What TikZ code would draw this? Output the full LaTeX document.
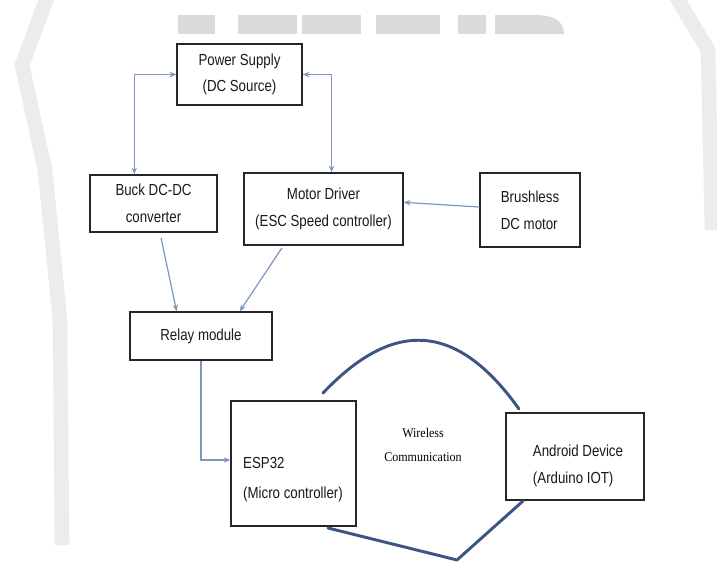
\documentclass[tikz,border=0pt]{standalone}
\usepackage{fontspec}
\setmainfont{Liberation Sans}[FakeStretch=0.83]
\newfontfamily\wlfont{Liberation Serif}[FakeStretch=0.9]
\usetikzlibrary{arrows.meta,calc}
\definecolor{enlace}{RGB}{125,150,190}
\definecolor{onda}{RGB}{60,85,130}
\definecolor{marca}{RGB}{218,218,218}
\definecolor{banda}{RGB}{236,236,236}
\begin{document}
\begin{tikzpicture}[x=0.75pt,y=-0.75pt,
    caja/.style={draw=black!85, line width=1pt, fill=white, inner sep=2pt, align=center, text=black!90, font=\fontsize{12}{20}\selectfont},
    texto/.style={inner sep=0pt, text=black!90, font=\fontsize{12}{20}\selectfont},
    enlace/.style={draw=enlace, line width=0.9pt, -{Stealth[length=5pt,width=4pt]}},
    enlacedoble/.style={enlace, {Stealth[length=5pt,width=4pt]}-{Stealth[length=5pt,width=4pt]}},
    onda/.style={draw=onda, line width=2.2pt, line cap=round, line join=round}]
  \useasboundingbox (0,0) rectangle (717,579);
  % Marca de agua
  \foreach \xa/\xb in {178/215,238/297,302/361,376/440,458/486}
    \fill[marca] (\xa,15) rectangle (\xb,34);
  \fill[marca] (495,34) -- (495,15) -- (535,15) .. controls (555,15) and (564,22) .. (564,34) -- cycle;
  \draw[banda, line width=11pt, line join=round] (50,-10) -- (22,65) -- (45,170) -- (60,320) -- (62,545);
  \draw[banda, line width=11pt, line join=round] (672,-10) -- (708,50) -- (712,230);
  % Bloques
  \node[caja, minimum width=93.75pt, minimum height=45.75pt] (fuente) at (239.5,74.5) {Power Supply\\(DC Source)};
  \node[caja, minimum width=95.25pt, minimum height=42.75pt] (buck) at (153.5,203.5) {Buck DC-DC\\converter};
  \node[caja, minimum width=119.25pt, minimum height=54pt] (motor) at (323.5,209) {Motor Driver\\(ESC Speed controller)};
  \node[caja, align=left, minimum width=75pt, minimum height=55.5pt] (bldc) at (530,210) {Brushless\\DC motor};
  \node[caja, minimum width=106.5pt, minimum height=36pt] (rele) at (201,336) {Relay module};
  \node[caja, minimum width=93.75pt, minimum height=93.75pt] (esp) at (293.5,463.5) {};
  \node[texto, align=left, font=\fontsize{12}{22.5}\selectfont] (esptxt) at (293,480) {ESP32\\(Micro controller)};
  \node[caja, minimum width=103.5pt, minimum height=65.25pt] (android) at (575,456.5) {};
  \node[texto, align=left] (androidtxt) at (578,466) {Android Device\\(Arduino IOT)};
  \node[inner sep=0pt, align=center, text=black, font=\wlfont\fontsize{10}{18}\selectfont] (inalambrico) at (423,445) {Wireless\\Communication};
  % Conexiones
  \draw[enlacedoble] (fuente.west) -| ($(buck.north west)!0.35!(buck.north east)$);
  \draw[enlacedoble] (fuente.east) -| ($(motor.north west)!0.55!(motor.north east)$);
  \draw[enlace] ([yshift=2.25pt]bldc.west) -- ([yshift=5pt]motor.east);
  \draw[enlace, shorten <=4pt] ($(buck.south west)!0.55!(buck.south east)$) -- ($(rele.north west)!0.33!(rele.north east)$);
  \draw[enlace, shorten <=2pt] ($(motor.south west)!0.25!(motor.south east)$) -- ($(rele.north west)!0.77!(rele.north east)$);
  \draw[enlace] (rele.south) |- ([yshift=2.6pt]esp.west);
  % Enlace inalambrico
  \coordinate (a1) at (323,393);
  \coordinate (a2) at (519,409);
  \coordinate (b1) at (328,528);
  \coordinate (b2) at (457,560);
  \coordinate (b3) at (523,501);
  \draw[onda] (a1) .. controls (385,328) and (450,312) .. (a2);
  \draw[onda] (b1) -- (b2) -- (b3);
\end{tikzpicture}
\end{document}
